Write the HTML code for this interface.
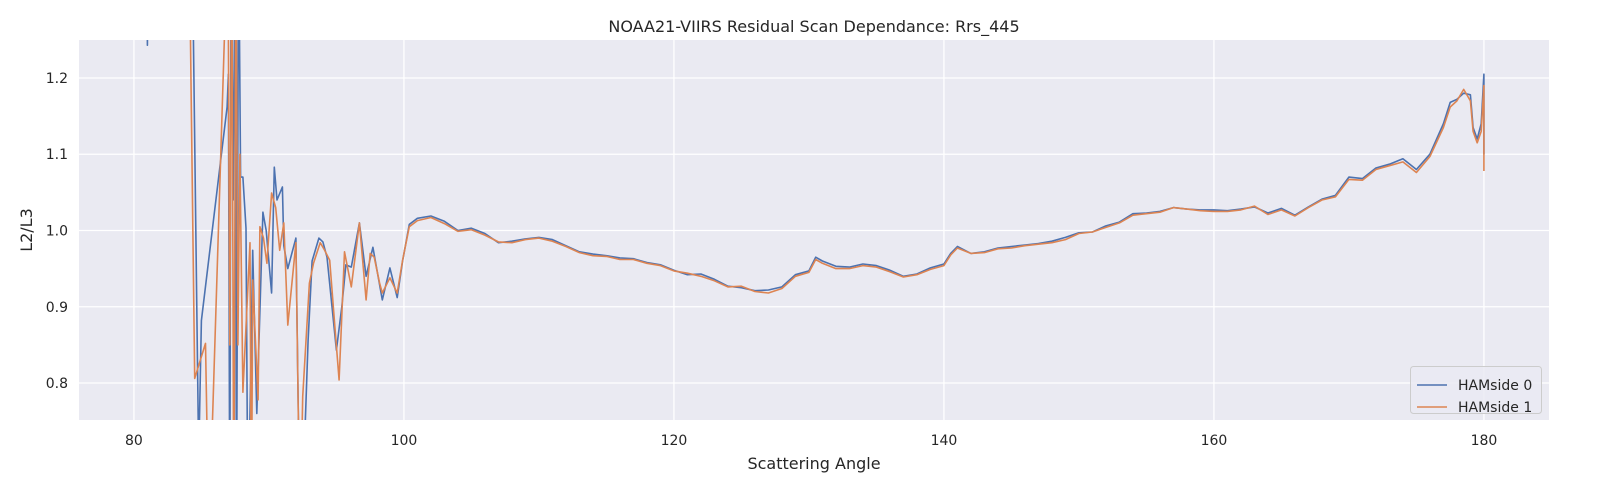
<!DOCTYPE html>
<html><head><meta charset="utf-8"><style>
html,body{margin:0;padding:0;background:#fff;overflow:hidden;width:1600px;height:500px;}
svg{display:block;}
svg text{fill:#262626;font-family:"DejaVu Sans","Liberation Sans",sans-serif;}
</style></head><body>
<svg id="chart" width="1600" height="500" viewBox="0 0 1600 500" xmlns="http://www.w3.org/2000/svg">
<rect x="79" y="40" width="1470" height="380" fill="#eaeaf2"/>
<g id="grid"></g>
<defs><clipPath id="clip"><rect x="79" y="40" width="1470" height="380"/></clipPath></defs>
<g id="series" clip-path="url(#clip)"></g>
<g id="ticks"></g>
<text x="814" y="32" text-anchor="middle" font-size="16">NOAA21-VIIRS Residual Scan Dependance: Rrs_445</text>
<text x="814" y="469" text-anchor="middle" font-size="16">Scattering Angle</text>
<text x="32" y="230" text-anchor="middle" font-size="16" transform="rotate(-90 32 230)">L2/L3</text>
<g>
<rect x="1410.5" y="366.5" width="131" height="47" rx="3" fill="#eaeaf2" fill-opacity="0.8" stroke="#cccccc"/>
<g><line x1="1417" y1="385" x2="1447" y2="385" stroke="#4c72b0" stroke-width="1.6"/><text x="1458" y="390" font-size="14">HAMside 0</text></g>
<g><line x1="1417" y1="407" x2="1447" y2="407" stroke="#dd8452" stroke-width="1.6"/><text x="1458" y="412" font-size="14">HAMside 1</text></g>
</g>
</svg>
<script>
const xTicks=[80,100,120,140,160,180];
const yTicks=[0.8,0.9,1.0,1.1,1.2];
const xTickLabels=["80","100","120","140","160","180"];
const yTickLabels=["0.8","0.9","1.0","1.1","1.2"];
const tail0X=[100.4,101,102,103,104,105,106,107,108,109,110,111,112,113,114,115,116,117,118,119,120,121,122,123,124,125,126,127,128,129,130,130.5,131,132,133,134,135,136,137,138,139,140,140.5,141,142,143,144,145,146,147,148,149,150,151,152,153,154,155,156,157,158,159,160,161,162,163,164,165,166,167,168,169,170,171,172,173,174,175,176,177,177.5,178,178.5,179,179.2,179.5,179.8,180,180];
const ham0Angle=[80.99,81,81.01,84.3,84.8,85.0,86.9,87.0,87.1,87.2,87.35,87.5,87.6,87.75,87.9,88.07,88.3,88.45,88.8,89.1,89.55,89.8,90.2,90.4,90.6,91.0,91.1,91.4,92,92.3,92.6,92.9,93.2,93.7,94.0,94.3,95.0,95.4,95.7,96.1,96.7,97.2,97.7,98.4,98.96,99.5,99.9].concat(tail0X);
const ham0Value=[1.27,1.243,1.27,1.4,0.7,0.882,1.162,1.205,0.6,1.4,1.04,1.4,0.6,1.4,1.07,1.07,1.003,0.6,0.974,0.76,1.024,1.0,0.918,1.083,1.04,1.057,0.98,0.95,0.99,0.6,0.7,0.856,0.96,0.99,0.985,0.965,0.843,0.9,0.955,0.952,1.01,0.94,0.978,0.909,0.951,0.912,0.96,
1.008,1.016,1.019,1.012,1.0,1.003,0.996,0.984,0.986,0.989,0.991,0.988,0.98,0.972,0.969,0.967,0.964,0.963,0.958,0.955,0.948,0.942,0.943,0.936,0.927,0.925,0.921,0.922,0.926,0.942,0.947,0.965,0.96,0.953,0.952,0.956,0.954,0.948,0.94,0.943,0.951,0.956,0.97,0.979,0.97,0.972,0.977,0.979,0.981,0.983,0.986,0.991,0.997,0.998,1.006,1.011,1.022,1.023,1.025,1.03,1.028,1.027,1.027,1.026,1.028,1.031,1.023,1.029,1.02,1.031,1.041,1.046,1.07,1.068,1.082,1.087,1.094,1.08,1.1,1.14,1.168,1.172,1.18,1.178,1.135,1.12,1.14,1.205,1.1];
const ham1Angle=[84.15,84.5,85.3,85.55,86.96,87.1,87.25,87.4,87.55,87.7,87.85,88.07,88.6,88.7,88.8,89.2,89.33,89.6,89.85,90.2,90.5,90.8,91.1,91.4,92,92.3,92.5,93.0,93.3,93.8,94.1,94.5,94.9,95.2,95.6,96.1,96.7,97.2,97.5,97.8,98.2,98.4,98.96,99.5,99.9].concat(tail0X);
const ham1Value=[1.3,0.806,0.852,0.6,1.4,0.85,1.4,0.6,1.4,0.85,1.1,0.788,0.984,0.6,0.935,0.778,1.005,0.99,0.957,1.049,1.03,0.974,1.01,0.876,0.984,0.6,0.782,0.931,0.957,0.984,0.975,0.961,0.87,0.804,0.972,0.926,1.01,0.909,0.97,0.965,0.931,0.918,0.938,0.918,0.961,
1.005,1.013,1.017,1.009,0.999,1.001,0.994,0.985,0.984,0.988,0.99,0.986,0.979,0.971,0.967,0.966,0.962,0.962,0.957,0.954,0.947,0.944,0.94,0.934,0.926,0.927,0.92,0.918,0.924,0.94,0.945,0.962,0.957,0.95,0.95,0.954,0.952,0.946,0.939,0.942,0.949,0.954,0.968,0.977,0.97,0.971,0.976,0.977,0.98,0.982,0.984,0.988,0.996,0.998,1.004,1.01,1.02,1.022,1.024,1.03,1.028,1.026,1.025,1.025,1.027,1.032,1.021,1.027,1.019,1.03,1.04,1.044,1.067,1.066,1.08,1.085,1.09,1.076,1.097,1.135,1.162,1.17,1.185,1.17,1.13,1.115,1.13,1.19,1.078];
const NS="http://www.w3.org/2000/svg";
const xMin=75.93,xMax=184.82,yMin=0.7515,yMax=1.2498,L=79,R=1549,T=40,B=420;
function sx(v){return L+(v-xMin)/(xMax-xMin)*(R-L);}
function sy(v){return B-(v-yMin)/(yMax-yMin)*(B-T);}
const grid=document.getElementById('grid'),ticks=document.getElementById('ticks'),ser=document.getElementById('series');
xTicks.forEach((t,i)=>{
 const l=document.createElementNS(NS,'line');
 
 
 l.setAttribute('x1',sx(t));l.setAttribute('x2',sx(t));l.setAttribute('y1',T);l.setAttribute('y2',B);
 l.setAttribute('stroke','#fff');l.setAttribute('stroke-width','1.3');grid.appendChild(l);
 const tx=document.createElementNS(NS,'text');
 
 
 tx.setAttribute('x',sx(t));tx.setAttribute('y',445);tx.setAttribute('text-anchor','middle');tx.setAttribute('font-size','14');
 tx.textContent=xTickLabels[i];ticks.appendChild(tx);
});
yTicks.forEach((t,i)=>{
 const l=document.createElementNS(NS,'line');
 
 
 l.setAttribute('x1',L);l.setAttribute('x2',R);l.setAttribute('y1',sy(t));l.setAttribute('y2',sy(t));
 l.setAttribute('stroke','#fff');l.setAttribute('stroke-width','1.3');grid.appendChild(l);
 const tx=document.createElementNS(NS,'text');
 
 
 tx.setAttribute('x',68);tx.setAttribute('y',sy(t)+5);tx.setAttribute('text-anchor','end');tx.setAttribute('font-size','14');
 tx.textContent=yTickLabels[i];ticks.appendChild(tx);
});
function draw(xs,ys,color,name){
 const p=document.createElementNS(NS,'polyline');
 
 
 p.setAttribute('points',xs.map((x,i)=>sx(x).toFixed(1)+','+sy(ys[i]).toFixed(1)).join(' '));
 p.setAttribute('fill','none');p.setAttribute('stroke',color);p.setAttribute('stroke-width','1.6');p.setAttribute('stroke-linejoin','round');
 ser.appendChild(p);
}
draw(ham0Angle,ham0Value,'#4c72b0','line-hamside-0');
draw(ham1Angle,ham1Value,'#dd8452','line-hamside-1');
</script>
</body></html>
